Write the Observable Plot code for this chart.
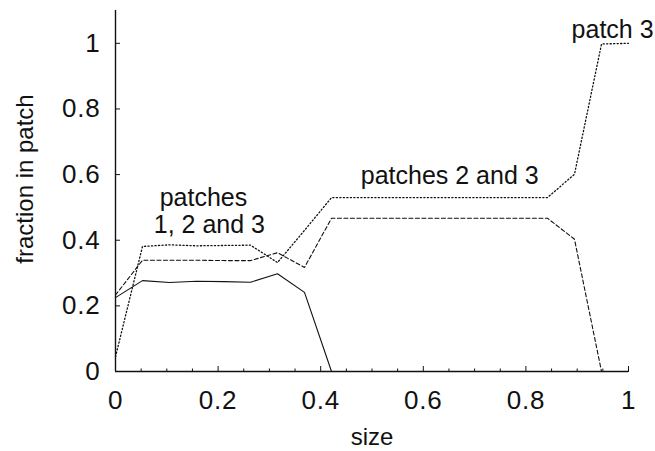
<!DOCTYPE html>
<html>
<head>
<meta charset="utf-8">
<script src="https://cdn.jsdelivr.net/npm/d3@7"></script>
<script src="https://cdn.jsdelivr.net/npm/@observablehq/plot@0.6"></script>
<style>
  html, body { margin: 0; padding: 0; background: #fff; }
  #chart { width: 655px; height: 451px; }
  #chart text.lbl { letter-spacing: 2.2px; }
  #chart g[aria-label="x-axis tick label"] text, #chart g[aria-label="y-axis tick label"] text { letter-spacing: 0.8px; }
</style>
</head>
<body>
<div id="chart"></div>
<script>
// size values (x)
const sizes = [0, 0.0526, 0.1053, 0.1579, 0.2105, 0.2632, 0.3158, 0.3684, 0.4211, 0.4737,
               0.5263, 0.5789, 0.6316, 0.6842, 0.7368, 0.7895, 0.8421, 0.8947, 0.9474, 1];
// fraction in patch 1 (solid)
const patch1 = [0.225, 0.277, 0.271, 0.275, 0.274, 0.272, 0.298, 0.241, 0, 0,
                0, 0, 0, 0, 0, 0, 0, 0, 0, 0];
// fraction in patch 2 (dashed)
const patch2 = [0.233, 0.339, 0.339, 0.339, 0.338, 0.338, 0.362, 0.317, 0.467, 0.467,
                0.467, 0.467, 0.467, 0.467, 0.467, 0.467, 0.467, 0.403, 0, 0];
// fraction in patch 3 (dotted)
const patch3 = [0.045, 0.381, 0.386, 0.383, 0.384, 0.385, 0.332, 0.43, 0.53, 0.53,
                0.53, 0.53, 0.53, 0.53, 0.53, 0.53, 0.53, 0.601, 0.998, 1.0];

// axis ticks
const xMajorTicks = [0, 0.2, 0.4, 0.6, 0.8, 1];
const xMinorTicks = [0.05, 0.1, 0.15, 0.25, 0.3, 0.35, 0.45, 0.5, 0.55, 0.65, 0.7, 0.75, 0.85, 0.9, 0.95];
const yTicks = [0, 0.2, 0.4, 0.6, 0.8, 1];
const tickLabels = ["0", "0.2", "0.4", "0.6", "0.8", "1"];

// annotations
const annText = ["patches", "1, 2 and 3", "patches 2 and 3", "patch 3"];
const annX = [0.1715, 0.183, 0.6515, 0.969];
const annY = [0.5045, 0.423, 0.5706, 1.017];

const series = [
  {name: "patch 1", values: patch1, dash: null, width: 1.1},
  {name: "patch 2", values: patch2, dash: "4,2.5", width: 1.1},
  {name: "patch 3", values: patch3, dash: "1.2,2.3", width: 1.3}
];
const rows = series.map(s => s.values.map((v, i) => ({size: sizes[i], frac: v})));
const annotations = annText.map((t, i) => ({text: t, x: annX[i], y: annY[i]}));
const fmt = d => tickLabels[xMajorTicks.indexOf(d)] ?? String(d);
const fmtY = d => tickLabels[yTicks.indexOf(d)] ?? String(d);

const font = "'Liberation Sans', Arial, Helvetica, sans-serif";

const chart = Plot.plot({
  width: 655,
  height: 451,
  marginLeft: 115,
  marginRight: 27,
  marginTop: 10,
  marginBottom: 80,
  x: {domain: [0, 1]},
  y: {domain: [0, 1.1]},
  style: {fontFamily: font, background: "white", color: "#111", overflow: "visible"},
  marks: [
    Plot.ruleX([0], {stroke: "#111", strokeWidth: 1.4}),
    Plot.ruleY([0], {stroke: "#111", strokeWidth: 1.4}),
    Plot.axisX({ticks: xMajorTicks, tickSize: -5, tickPadding: 24, tickFormat: fmt, fontSize: 26, label: null, stroke: "#111"}),
    Plot.axisX({ticks: xMinorTicks, tickSize: -2.5, tickFormat: () => "", label: null, stroke: "#111"}),
    Plot.axisY({ticks: yTicks, tickSize: -5, tickPadding: 20, tickFormat: fmtY, fontSize: 26, label: null, stroke: "#111"}),
    ...series.map((s, k) => Plot.line(rows[k], {
      x: "size", y: "frac", stroke: "#111", strokeWidth: s.width,
      strokeDasharray: s.dash, curve: "linear"
    })),
    Plot.text(annotations, {x: "x", y: "y", text: "text", fontSize: 25, lineAnchor: "bottom",
      textAnchor: "middle", fill: "#111", className: "lbl"}),
    Plot.text(["fraction in patch"], {frameAnchor: "left", rotate: -90, dx: -90, dy: -12,
      fontSize: 24, lineAnchor: "middle", textAnchor: "middle", fill: "#111"}),
    Plot.text(["size"], {frameAnchor: "bottom", dy: 66, fontSize: 24, lineAnchor: "middle",
      textAnchor: "middle", fill: "#111", className: "lbl"})
  ]
});
document.getElementById("chart").appendChild(chart);
</script>
</body>
</html>
